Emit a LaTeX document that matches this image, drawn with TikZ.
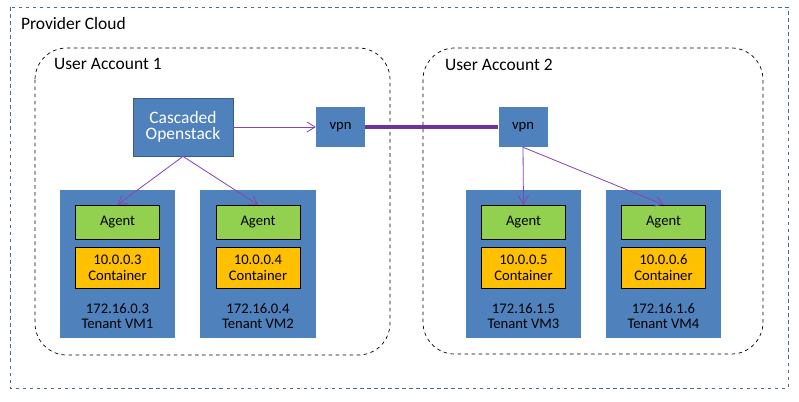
\documentclass[tikz,border=0pt]{standalone}
\usepackage{fontspec}
\setmainfont{Carlito}
\usetikzlibrary{arrows.meta}
\definecolor{boxblue}{HTML}{4F81BD}
\definecolor{boxedge}{HTML}{385D8A}
\definecolor{agentgreen}{HTML}{92D050}
\definecolor{contorange}{HTML}{FFC000}
\definecolor{linkpurple}{HTML}{7030A0}
\definecolor{arrowpurple}{HTML}{8545B5}
\definecolor{cloudedge}{HTML}{4A6B8F}
\tikzset{
    bigtext/.style={font=\fontsize{14.9}{16}\selectfont},
    smalltext/.style={font=\fontsize{12.5}{13.5}\selectfont},
    vmbox/.style={fill=boxblue,minimum width=3.45cm,minimum height=4.44cm},
    agentbox/.style={draw=black,fill=agentgreen,minimum width=2.52cm,minimum height=1.02cm,smalltext},
    contbox/.style={draw=black,fill=contorange,minimum width=2.52cm,minimum height=1.23cm,smalltext,align=center,inner sep=0pt},
    vpnbox/.style={fill=boxblue,minimum width=1.47cm,minimum height=1.2cm,smalltext},
    ctrl/.style={->,>={Straight Barb[length=0.24cm,width=0.3cm]},arrowpurple,line width=0.7pt}
}
\begin{document}
\begin{tikzpicture}[x=0.03cm,y=-0.03cm]
    \useasboundingbox(0,0)rectangle(799,402);
    %provider and accounts
    \draw[cloudedge,dashed,line width=0.6pt](10,7)rectangle(788,388);
    \node[bigtext,anchor=west](pc)at(17,24){Provider Cloud};
    \draw[dashed,line width=0.6pt,rounded corners=0.95cm](35,48)rectangle(390,355);
    \draw[dashed,line width=0.6pt,rounded corners=0.95cm](423,48)rectangle(763,354);
    \node[bigtext,anchor=west](ua1)at(50,64){User Account 1};
    \node[bigtext,anchor=west](ua2)at(441,65){User Account 2};
    %top boxes
    \node[draw=boxedge,fill=boxblue,text=white,bigtext,align=center,minimum width=3cm,minimum height=1.74cm,line width=0.7pt](os)at(183,127){Cascaded\\[-2pt]Openstack};
    \node[vpnbox](vpn1)at(340.5,127){vpn};
    \node[vpnbox](vpn2)at(523,127){vpn};
    %tenant vms
    \foreach \n/\cx/\vmip/\ctip in {1/117.5/172.16.0.3/10.0.0.3,2/258/172.16.0.4/10.0.0.4,3/523.5/172.16.1.5/10.0.0.5,4/663.5/172.16.1.6/10.0.0.6}{
        \node[vmbox](vm\n)at(\cx,264){};
        \node[agentbox](ag\n)at(\cx,222){Agent};
        \node[contbox](ct\n)at(\cx,267.5){\ctip\\Container};
        \node[smalltext,align=center](lb\n)at(\cx,316){\vmip\\[-1pt]Tenant VM\n};
    }
    %links
    \draw[ctrl](os)--(vpn1);
    \draw[linkpurple,line width=2.6pt](vpn1)--(vpn2);
    \draw[ctrl](os.south)--(ag1.north);
    \draw[ctrl](os.south)--(ag2.north);
    \draw[ctrl](vpn2.south)--(ag3.north);
    \draw[ctrl](vpn2.south)--(ag4.north);
\end{tikzpicture}
\end{document}
